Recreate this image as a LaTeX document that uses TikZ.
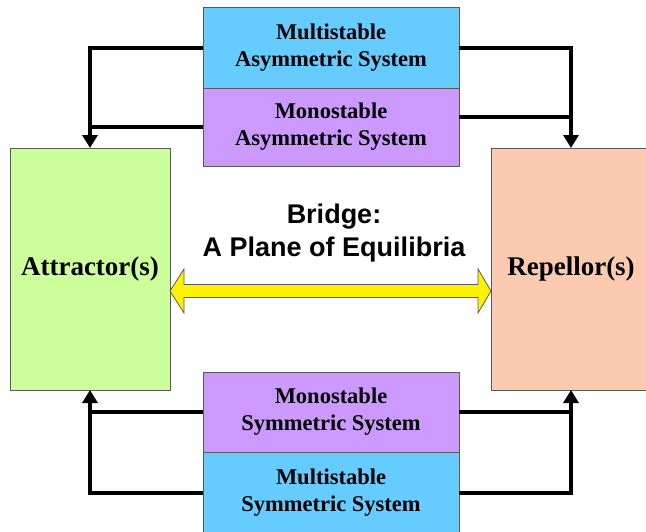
\documentclass[tikz,border=0pt]{standalone}
\usepackage{fontspec}
\setmainfont{Liberation Serif}
\newfontfamily\bridgefont{Liberation Sans}
\usetikzlibrary{positioning, arrows.meta}
\definecolor{SysBlue}{HTML}{66CCFF}
\definecolor{SysPurple}{HTML}{CC99FF}
\definecolor{AttrGreen}{HTML}{CCFF99}
\definecolor{RepPeach}{HTML}{FBCAB0}
\definecolor{BoxEdge}{HTML}{5A5A5A}

\begin{document}
\begin{tikzpicture}[x=1pt, y=-1pt,
    sysbox/.style={draw=BoxEdge, line width=0.8pt, outer sep=0pt, inner sep=0pt,
      minimum width=256pt, align=center, font=\bfseries\fontsize{22.5}{27}\selectfont},
    bigbox/.style={draw=BoxEdge, line width=0.8pt, outer sep=0pt,
      minimum width=160pt, minimum height=242pt, font=\bfseries\fontsize{27}{30}\selectfont},
    link/.style={line width=4pt},
    feed/.style={link, -{Triangle[width=15pt, length=13pt]}}]
    \useasboundingbox (0,0) rectangle (646,531);

    % Asymmetric systems (top)
    \node[sysbox, fill=SysBlue, minimum height=81pt] (masym) at (331,47.5) {Multistable\\Asymmetric System};
    \node[sysbox, fill=SysPurple, minimum height=78pt, below=0pt of masym] (monasym) {Monostable\\Asymmetric System};

    % Attractor and repellor
    \node[bigbox, fill=AttrGreen] (attr) at (90,269) {Attractor(s)};
    \node[bigbox, fill=RepPeach] (rep) at (571,269) {Repellor(s)};

    % Symmetric systems (bottom)
    \node[sysbox, fill=SysPurple, minimum height=80pt] (monsym) at (331,412) {Monostable\\Symmetric System};
    \node[sysbox, fill=SysBlue, minimum height=81pt, below=0pt of monsym] (msym) {Multistable\\Symmetric System};

    % Bridge
    \node[font=\bridgefont\bfseries\fontsize{27}{33}\selectfont, align=center] (bridge) at (334,233) {Bridge:\\A Plane of Equilibria};
    \coordinate (bl) at (attr.east |- 0,291);
    \coordinate (br) at (rep.west |- 0,291);
    \draw[BoxEdge, line width=0.8pt, fill=yellow] (bl) -- (184,269) -- (184,284.5) -- (478,284.5)
        -- (478,269) -- (br) -- (478,313) -- (478,297.5) -- (184,297.5) -- (184,313) -- cycle;

    % Top connectors
    \draw[feed] (masym.west) -- (attr.north |- masym.west) -- (attr.north);
    \draw[link] (monasym.west) -- (attr.north |- monasym.west);
    \draw[feed] (masym.east) -- (rep.north |- masym.east) -- (rep.north);
    \coordinate (rj) at ([yshift=10pt]monasym.east);
    \draw[link] (rj) -- (rep.north |- rj);

    % Bottom connectors
    \draw[feed] (msym.west) -- (attr.south |- msym.west) -- (attr.south);
    \draw[link] (monsym.west) -- (attr.south |- monsym.west);
    \draw[feed] (msym.east) -- (rep.south |- msym.east) -- (rep.south);
    \draw[link] (monsym.east) -- (rep.south |- monsym.east);
\end{tikzpicture}
\end{document}
